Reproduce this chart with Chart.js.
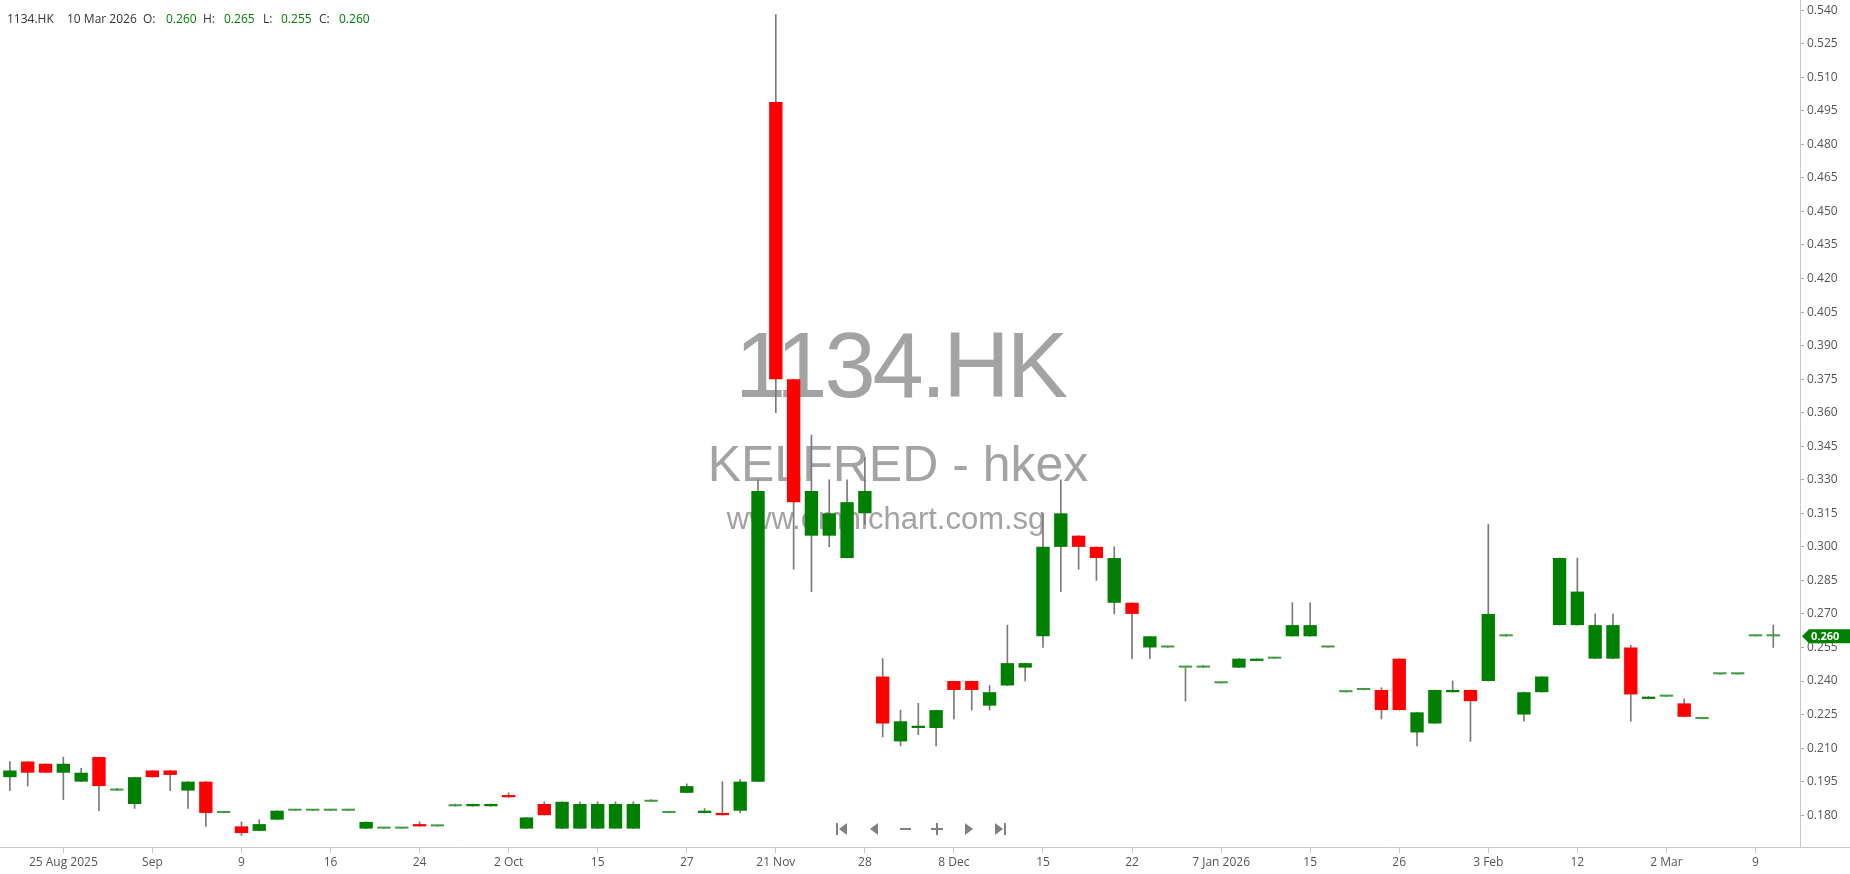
<!DOCTYPE html>
<html>
<head>
<meta charset="utf-8">
<title>1134.HK</title>
<script src="https://cdn.jsdelivr.net/npm/chart.js@4.4.1/dist/chart.umd.min.js"></script>
<style>
  html, body { margin: 0; padding: 0; background: #fff; }
  #wrap { position: relative; width: 1850px; height: 874px; overflow: hidden; }
  #info span { position: absolute; top: 10px; font: 12px "Open Sans", sans-serif; color: #333; white-space: pre; }
  #info span.v { color: #008000; }
</style>
</head>
<body>
<div id="wrap">
  <canvas id="chart" width="1850" height="874"></canvas>
  <div id="info"></div>
</div>
<script>
"use strict";

var ticker = '1134.HK';
var boardName = 'KELFRED - hkex';
var siteName = 'www.omnichart.com.sg';
var lastDate = '10 Mar 2026';

// daily candles, oldest first
var opens = [
    0.197, 0.204, 0.203, 0.199, 0.195, 0.206, 0.191, 0.185, 0.200, 0.200,
    0.191, 0.195, 0.181, 0.175, 0.173, 0.178, 0.182, 0.182, 0.182, 0.182,
    0.174, 0.174, 0.174, 0.176, 0.175, 0.184, 0.184, 0.184, 0.189, 0.174,
    0.185, 0.174, 0.174, 0.174, 0.174, 0.174, 0.186, 0.181, 0.190, 0.181,
    0.181, 0.182, 0.195, 0.499, 0.375, 0.305, 0.305, 0.295, 0.315, 0.242,
    0.213, 0.219, 0.219, 0.240, 0.240, 0.229, 0.238, 0.246, 0.260, 0.300,
    0.305, 0.300, 0.275, 0.275, 0.255, 0.255, 0.246, 0.246, 0.239, 0.246,
    0.249, 0.250, 0.260, 0.260, 0.255, 0.235, 0.236, 0.236, 0.250, 0.217,
    0.221, 0.235, 0.236, 0.240, 0.260, 0.225, 0.235, 0.265, 0.265, 0.250,
    0.250, 0.255, 0.232, 0.233, 0.230, 0.223, 0.243, 0.243, 0.260, 0.260
];
var highs = [
    0.204, 0.204, 0.203, 0.206, 0.201, 0.206, 0.192, 0.197, 0.200, 0.200,
    0.195, 0.195, 0.181, 0.177, 0.178, 0.182, 0.182, 0.182, 0.182, 0.182,
    0.177, 0.174, 0.174, 0.177, 0.175, 0.185, 0.185, 0.185, 0.190, 0.179,
    0.186, 0.186, 0.186, 0.186, 0.186, 0.186, 0.187, 0.181, 0.194, 0.183,
    0.195, 0.196, 0.330, 0.538, 0.375, 0.350, 0.330, 0.330, 0.340, 0.250,
    0.227, 0.230, 0.227, 0.240, 0.240, 0.238, 0.265, 0.248, 0.315, 0.330,
    0.305, 0.300, 0.300, 0.275, 0.260, 0.255, 0.246, 0.247, 0.239, 0.250,
    0.250, 0.250, 0.275, 0.275, 0.255, 0.235, 0.236, 0.237, 0.250, 0.226,
    0.236, 0.240, 0.236, 0.310, 0.261, 0.235, 0.242, 0.295, 0.295, 0.270,
    0.270, 0.256, 0.233, 0.233, 0.232, 0.223, 0.243, 0.243, 0.260, 0.265
];
var lows = [
    0.191, 0.193, 0.199, 0.187, 0.195, 0.182, 0.191, 0.183, 0.197, 0.191,
    0.183, 0.175, 0.181, 0.171, 0.173, 0.178, 0.182, 0.182, 0.182, 0.182,
    0.174, 0.174, 0.174, 0.175, 0.175, 0.184, 0.184, 0.184, 0.188, 0.174,
    0.180, 0.174, 0.174, 0.174, 0.174, 0.174, 0.186, 0.181, 0.190, 0.181,
    0.180, 0.181, 0.195, 0.360, 0.290, 0.280, 0.300, 0.295, 0.310, 0.215,
    0.211, 0.216, 0.211, 0.223, 0.227, 0.227, 0.238, 0.240, 0.255, 0.280,
    0.290, 0.285, 0.270, 0.250, 0.250, 0.255, 0.231, 0.246, 0.239, 0.246,
    0.249, 0.250, 0.260, 0.260, 0.255, 0.235, 0.236, 0.223, 0.227, 0.211,
    0.221, 0.235, 0.213, 0.240, 0.260, 0.222, 0.235, 0.265, 0.265, 0.250,
    0.250, 0.222, 0.232, 0.233, 0.224, 0.223, 0.243, 0.243, 0.260, 0.255
];
var closes = [
    0.200, 0.199, 0.199, 0.203, 0.199, 0.193, 0.191, 0.197, 0.197, 0.198,
    0.195, 0.181, 0.181, 0.172, 0.176, 0.182, 0.182, 0.182, 0.182, 0.182,
    0.177, 0.174, 0.174, 0.175, 0.175, 0.184, 0.185, 0.185, 0.188, 0.179,
    0.180, 0.186, 0.185, 0.185, 0.185, 0.185, 0.186, 0.181, 0.193, 0.182,
    0.180, 0.195, 0.325, 0.375, 0.320, 0.325, 0.315, 0.320, 0.325, 0.221,
    0.222, 0.220, 0.227, 0.236, 0.236, 0.235, 0.248, 0.248, 0.300, 0.315,
    0.300, 0.295, 0.295, 0.270, 0.260, 0.255, 0.246, 0.246, 0.239, 0.250,
    0.250, 0.250, 0.265, 0.265, 0.255, 0.235, 0.236, 0.227, 0.227, 0.226,
    0.236, 0.236, 0.231, 0.270, 0.260, 0.235, 0.242, 0.295, 0.280, 0.265,
    0.265, 0.234, 0.233, 0.233, 0.224, 0.223, 0.243, 0.243, 0.260, 0.260
];

// date labels shown under the axis, one every 5 bars starting at bar 3
var xTickLabels = ['25 Aug 2025', 'Sep', '9', '16', '24', '2 Oct', '15', '27', '21 Nov', '28',
                   '8 Dec', '15', '22', '7 Jan 2026', '15', '26', '3 Feb', '12', '2 Mar', '9'];
var firstTickBar = 3;
var barsPerTick = 5;
var emptySlots = 1;

var priceTicks = [0.180, 0.195, 0.210, 0.225, 0.240, 0.255, 0.270, 0.285, 0.300, 0.315, 0.330,
                  0.345, 0.360, 0.375, 0.390, 0.405, 0.420, 0.435, 0.450, 0.465, 0.480, 0.495,
                  0.510, 0.525, 0.540];
var priceMin = 0.16577;
var priceMax = 0.54457;

var UP = '#008000';
var FLAT = '#3f9c3f';
var DOWN = '#ff0000';
var FONT = '"Open Sans", sans-serif';

var categories = [];
for (var i = 0; i < opens.length + emptySlots; i++) categories.push('');
xTickLabels.forEach(function (lab, k) { categories[firstTickBar + k * barsPerTick] = lab; });

var bodies = opens.map(function (o, i) { return [Math.min(o, closes[i]), Math.max(o, closes[i])]; });
var wicks = lows.map(function (l, i) { return [l, highs[i]]; });
var colours = opens.map(function (o, i) {
    if (closes[i] === o) return FLAT;
    return closes[i] > o ? UP : DOWN;
});

// header line, values from the last bar
var last = opens.length - 1;
var header = [
    [ticker, 7, false], [lastDate, 67, false],
    ['O:', 143, false], [opens[last].toFixed(3), 166, true],
    ['H:', 203, false], [highs[last].toFixed(3), 224, true],
    ['L:', 263, false], [lows[last].toFixed(3), 281, true],
    ['C:', 319, false], [closes[last].toFixed(3), 339, true]
];
var info = document.getElementById('info');
header.forEach(function (h) {
    var s = document.createElement('span');
    s.textContent = h[0];
    s.style.left = h[1] + 'px';
    if (h[2]) s.className = 'v';
    info.appendChild(s);
});

var decorPlugin = {
    id: 'decor',
    beforeDatasetsDraw: function (chart) {
        var ctx = chart.ctx;
        ctx.save();
        ctx.fillStyle = '#a3a3a3';
        ctx.textAlign = 'center';
        ctx.textBaseline = 'alphabetic';
        ctx.font = '92px "Liberation Sans", Arial, sans-serif';
        if ('letterSpacing' in ctx) ctx.letterSpacing = '-3px';
        ctx.fillText(ticker, 900, 397);
        if ('letterSpacing' in ctx) ctx.letterSpacing = '0px';
        ctx.font = '50px "Liberation Sans", Arial, sans-serif';
        ctx.fillText(boardName, 898, 481);
        ctx.font = '31px "Liberation Sans", Arial, sans-serif';
        ctx.fillText(siteName, 886, 529);
        ctx.restore();
    },
    afterDraw: function (chart) {
        var ctx = chart.ctx;
        var a = chart.chartArea;
        var yS = chart.scales.y;
        ctx.save();
        // axis lines
        ctx.strokeStyle = '#c8c8c8';
        ctx.lineWidth = 1;
        ctx.beginPath();
        ctx.moveTo(0, Math.round(a.bottom) + 0.5);
        ctx.lineTo(chart.width, Math.round(a.bottom) + 0.5);
        ctx.moveTo(Math.round(a.right) + 0.5, 0);
        ctx.lineTo(Math.round(a.right) + 0.5, Math.round(a.bottom));
        ctx.stroke();

        // last price badge
        var py = yS.getPixelForValue(closes[last]);
        var bx = Math.round(a.right) + 2;
        ctx.fillStyle = UP;
        ctx.beginPath();
        ctx.moveTo(bx, py);
        ctx.lineTo(bx + 7, py - 7);
        ctx.lineTo(chart.width, py - 7);
        ctx.lineTo(chart.width, py + 7);
        ctx.lineTo(bx + 7, py + 7);
        ctx.closePath();
        ctx.fill();
        ctx.fillStyle = '#fff';
        ctx.font = 'bold 11px ' + FONT;
        ctx.textAlign = 'left';
        ctx.textBaseline = 'middle';
        ctx.fillText(closes[last].toFixed(3), bx + 9, py + 0.5);

        // navigation buttons
        var ny = 829;
        ctx.fillStyle = '#808080';
        function tri(cx, dir) {
            ctx.beginPath();
            ctx.moveTo(cx - 4 * dir, ny);
            ctx.lineTo(cx + 4 * dir, ny - 6);
            ctx.lineTo(cx + 4 * dir, ny + 6);
            ctx.closePath();
            ctx.fill();
        }
        ctx.fillRect(836, ny - 6, 2, 12);
        tri(843, 1);
        tri(874, 1);
        ctx.fillRect(900, ny - 1, 11, 2);
        ctx.fillRect(931, ny - 1, 12, 2);
        ctx.fillRect(936, ny - 6, 2, 12);
        tri(969, -1);
        tri(999, -1);
        ctx.fillRect(1004, ny - 6, 2, 12);
        ctx.restore();
    }
};

new Chart(document.getElementById('chart'), {
    type: 'bar',
    data: {
        labels: categories,
        datasets: [
            {
                label: 'body',
                data: bodies,
                backgroundColor: colours,
                borderWidth: 0,
                barPercentage: 0.75,
                categoryPercentage: 1,
                grouped: false,
                minBarLength: 2,
                order: 0
            },
            {
                label: 'wick',
                data: wicks,
                backgroundColor: '#7a7a7a',
                borderWidth: 0,
                barThickness: 1,
                grouped: false,
                minBarLength: 1,
                order: 1
            }
        ]
    },
    options: {
        responsive: false,
        animation: false,
        events: [],
        layout: { padding: { left: 1, right: 0, top: 0, bottom: 0 } },
        plugins: { legend: { display: false }, tooltip: { enabled: false } },
        scales: {
            x: {
                type: 'category',
                offset: true,
                grid: { display: true, offset: false, drawOnChartArea: false, tickLength: 6, color: '#c8c8c8' },
                border: { display: false },
                ticks: { autoSkip: false, maxRotation: 0, padding: 2, color: '#555', font: { family: FONT, size: 12 } },
                afterBuildTicks: function (scale) {
                    scale.ticks = scale.ticks.filter(function (t) { return categories[t.value] !== ''; });
                },
                afterFit: function (scale) { scale.height = 27; }
            },
            y: {
                type: 'linear',
                position: 'right',
                min: priceMin,
                max: priceMax,
                grid: { drawOnChartArea: false, tickLength: 4, color: '#aaa' },
                border: { display: false },
                ticks: {
                    padding: 3, color: '#555', font: { family: FONT, size: 12 },
                    callback: function (v) { return Number(v).toFixed(3); }
                },
                afterBuildTicks: function (scale) {
                    scale.ticks = priceTicks.map(function (v) { return { value: v }; });
                },
                afterFit: function (scale) {
                    scale.width = 50;
                    scale.paddingTop = 0;
                    scale.paddingBottom = 0;
                }
            }
        }
    },
    plugins: [decorPlugin]
});
</script>
</body>
</html>
